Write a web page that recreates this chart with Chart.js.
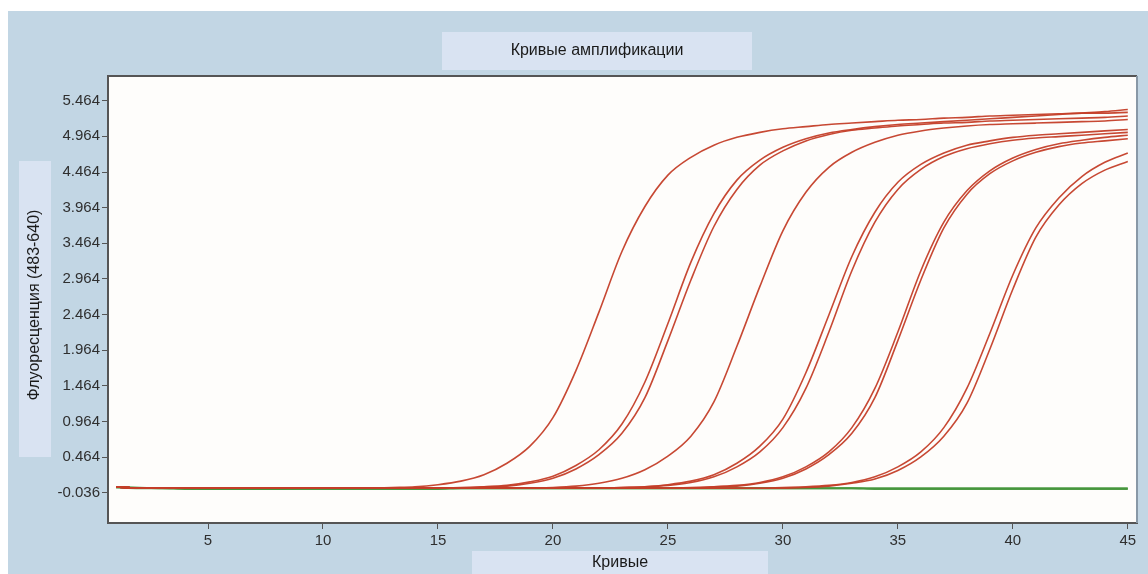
<!DOCTYPE html>
<html>
<head>
<meta charset="utf-8">
<title>Кривые амплификации</title>
<script src="https://cdn.jsdelivr.net/npm/chart.js@4"></script>
<style>
  html, body { margin: 0; padding: 0; background: #ffffff; }
  #wrap { position: relative; width: 1148px; height: 574px; }
</style>
</head>
<body>
<div id="wrap"><canvas id="ampChart" width="1148" height="574"></canvas></div>
<script>
// Chart data

const chartTitle = 'Кривые амплификации';
const xAxisTitle = 'Кривые';
const yAxisTitle = 'Флуоресценция (483-640)';

const cycles = [
  1, 2, 3, 4, 5, 6, 7, 8, 9, 10,
  11, 12, 13, 14, 15, 16, 17, 18, 19, 20,
  21, 22, 23, 24, 25, 26, 27, 28, 29, 30,
  31, 32, 33, 34, 35, 36, 37, 38, 39, 40,
  41, 42, 43, 44, 45
];

const xTickValues = [5, 10, 15, 20, 25, 30, 35, 40, 45];
const yTickValues = [-0.036, 0.464, 0.964, 1.464, 1.964, 2.464, 2.964, 3.464, 3.964, 4.464, 4.964, 5.464];

// red sample curves
const sample1 = [
  0.05, 0.03, 0.03, 0.03, 0.03, 0.03, 0.03, 0.03, 0.03, 0.03,
  0.03, 0.03, 0.04, 0.05, 0.08, 0.13, 0.22, 0.38, 0.62, 1.02,
  1.68, 2.50, 3.35, 3.98, 4.42, 4.67, 4.84, 4.95, 5.02, 5.07,
  5.10, 5.13, 5.15, 5.17, 5.19, 5.20, 5.22, 5.23, 5.25, 5.26,
  5.27, 5.28, 5.29, 5.29, 5.30
];
const sample2a = [
  0.05, 0.03, 0.03, 0.03, 0.03, 0.03, 0.03, 0.03, 0.03, 0.03,
  0.03, 0.03, 0.03, 0.03, 0.03, 0.04, 0.05, 0.07, 0.12, 0.20,
  0.35, 0.57, 0.93, 1.52, 2.34, 3.20, 3.88, 4.35, 4.63, 4.81,
  4.93, 5.01, 5.06, 5.10, 5.13, 5.15, 5.17, 5.19, 5.21, 5.23,
  5.25, 5.27, 5.29, 5.31, 5.34
];
const sample2b = [
  0.05, 0.03, 0.03, 0.03, 0.03, 0.03, 0.03, 0.03, 0.03, 0.03,
  0.03, 0.03, 0.03, 0.03, 0.03, 0.03, 0.05, 0.06, 0.10, 0.17,
  0.30, 0.50, 0.80, 1.30, 2.10, 2.95, 3.70, 4.22, 4.56, 4.76,
  4.90, 4.99, 5.05, 5.08, 5.11, 5.13, 5.15, 5.16, 5.18, 5.19,
  5.20, 5.21, 5.22, 5.23, 5.25
];
const sample3 = [
  0.05, 0.03, 0.03, 0.03, 0.03, 0.03, 0.03, 0.03, 0.03, 0.03,
  0.03, 0.03, 0.03, 0.03, 0.03, 0.03, 0.03, 0.03, 0.03, 0.04,
  0.06, 0.10, 0.17, 0.29, 0.48, 0.76, 1.24, 2.02, 2.86, 3.64,
  4.18, 4.53, 4.74, 4.88, 4.98, 5.04, 5.08, 5.11, 5.13, 5.14,
  5.15, 5.16, 5.17, 5.18, 5.20
];
const sample4a = [
  0.05, 0.03, 0.03, 0.03, 0.03, 0.03, 0.03, 0.03, 0.03, 0.03,
  0.03, 0.03, 0.03, 0.03, 0.03, 0.03, 0.03, 0.03, 0.03, 0.03,
  0.03, 0.03, 0.04, 0.05, 0.08, 0.13, 0.22, 0.38, 0.62, 1.00,
  1.65, 2.46, 3.28, 3.90, 4.32, 4.57, 4.73, 4.84, 4.90, 4.95,
  4.98, 5.00, 5.02, 5.04, 5.06
];
const sample4b = [
  0.05, 0.03, 0.03, 0.03, 0.03, 0.03, 0.03, 0.03, 0.03, 0.03,
  0.03, 0.03, 0.03, 0.03, 0.03, 0.03, 0.03, 0.03, 0.03, 0.03,
  0.03, 0.03, 0.04, 0.05, 0.07, 0.11, 0.19, 0.33, 0.54, 0.88,
  1.43, 2.22, 3.08, 3.76, 4.22, 4.50, 4.68, 4.79, 4.86, 4.91,
  4.94, 4.96, 4.98, 5.00, 5.02
];
const sample5a = [
  0.05, 0.03, 0.03, 0.03, 0.03, 0.03, 0.03, 0.03, 0.03, 0.03,
  0.03, 0.03, 0.03, 0.03, 0.03, 0.03, 0.03, 0.03, 0.03, 0.03,
  0.03, 0.03, 0.03, 0.03, 0.03, 0.04, 0.05, 0.07, 0.11, 0.19,
  0.33, 0.54, 0.88, 1.43, 2.22, 3.08, 3.76, 4.20, 4.48, 4.66,
  4.78, 4.86, 4.91, 4.95, 4.98
];
const sample5b = [
  0.05, 0.03, 0.03, 0.03, 0.03, 0.03, 0.03, 0.03, 0.03, 0.03,
  0.03, 0.03, 0.03, 0.03, 0.03, 0.03, 0.03, 0.03, 0.03, 0.03,
  0.03, 0.03, 0.03, 0.03, 0.03, 0.03, 0.05, 0.06, 0.10, 0.17,
  0.30, 0.50, 0.80, 1.30, 2.10, 2.95, 3.68, 4.15, 4.44, 4.62,
  4.74, 4.82, 4.87, 4.90, 4.93
];
const sample6a = [
  0.05, 0.03, 0.03, 0.03, 0.03, 0.03, 0.03, 0.03, 0.03, 0.03,
  0.03, 0.03, 0.03, 0.03, 0.03, 0.03, 0.03, 0.03, 0.03, 0.03,
  0.03, 0.03, 0.03, 0.03, 0.03, 0.03, 0.03, 0.03, 0.03, 0.04,
  0.05, 0.07, 0.11, 0.19, 0.33, 0.54, 0.88, 1.43, 2.20, 3.02,
  3.68, 4.10, 4.40, 4.60, 4.73
];
const sample6b = [
  0.05, 0.03, 0.03, 0.03, 0.03, 0.03, 0.03, 0.03, 0.03, 0.03,
  0.03, 0.03, 0.03, 0.03, 0.03, 0.03, 0.03, 0.03, 0.03, 0.03,
  0.03, 0.03, 0.03, 0.03, 0.03, 0.03, 0.03, 0.03, 0.03, 0.03,
  0.04, 0.06, 0.10, 0.16, 0.28, 0.47, 0.76, 1.22, 1.98, 2.82,
  3.55, 4.00, 4.30, 4.49, 4.61
];

// green negative controls
const control1 = [
  0.05, 0.04, 0.03, 0.03, 0.02, 0.02, 0.02, 0.02, 0.03, 0.03,
  0.03, 0.03, 0.03, 0.03, 0.03, 0.03, 0.03, 0.03, 0.03, 0.03,
  0.03, 0.03, 0.03, 0.03, 0.03, 0.03, 0.03, 0.03, 0.03, 0.03,
  0.03, 0.03, 0.03, 0.02, 0.02, 0.02, 0.02, 0.02, 0.02, 0.02,
  0.02, 0.02, 0.02, 0.02, 0.02
];
const control2 = [
  0.04, 0.03, 0.03, 0.02, 0.02, 0.02, 0.02, 0.02, 0.02, 0.02,
  0.02, 0.02, 0.02, 0.02, 0.02, 0.03, 0.03, 0.03, 0.03, 0.03,
  0.03, 0.03, 0.03, 0.03, 0.03, 0.03, 0.03, 0.03, 0.03, 0.03,
  0.03, 0.03, 0.03, 0.03, 0.03, 0.03, 0.03, 0.03, 0.03, 0.03,
  0.03, 0.03, 0.03, 0.03, 0.03
];

const sampleSeries = [sample1, sample2a, sample2b, sample3, sample4a, sample4b, sample5a, sample5b, sample6a, sample6b];
const controlSeries = [control1, control2];

const RED = 'rgba(196, 62, 40, 0.95)';
const GREEN = 'rgba(70, 150, 60, 0.95)';
const PANEL = '#c2d6e4';
const LABEL_BOX = '#d9e3f2';
const FONT = '"Liberation Sans", Arial, sans-serif';

function makeDataset(values, color, width) {
  return {
    data: values.map((v, i) => ({ x: cycles[i], y: v })),
    borderColor: color,
    borderWidth: width,
    pointRadius: 0,
    fill: false,
    cubicInterpolationMode: 'monotone'
  };
}

// panel background, label boxes and plot frame
const panelPlugin = {
  id: 'panelBoxes',
  beforeDraw(chart) {
    const ctx = chart.ctx;
    const area = chart.chartArea;
    ctx.save();
    ctx.fillStyle = '#ffffff';
    ctx.fillRect(0, 0, chart.width, chart.height);
    ctx.fillStyle = PANEL;
    ctx.fillRect(8, 11, chart.width - 8, chart.height - 11);
    ctx.fillStyle = '#fefdfb';
    ctx.fillRect(area.left, area.top, area.right - area.left, area.bottom - area.top);

    ctx.fillStyle = LABEL_BOX;
    ctx.fillRect(442, 32, 310, 38);
    ctx.fillRect(19, 161, 32, 296);
    ctx.fillRect(472, 551, 296, 23);
    ctx.restore();
  },
  afterDraw(chart) {
    const ctx = chart.ctx;
    const area = chart.chartArea;
    ctx.save();
    ctx.lineWidth = 2;
    ctx.strokeStyle = '#555555';
    ctx.beginPath();
    ctx.moveTo(area.left, area.top);
    ctx.lineTo(area.right, area.top);
    ctx.stroke();
    ctx.strokeStyle = '#8898a6';
    ctx.beginPath();
    ctx.moveTo(area.right, area.top);
    ctx.lineTo(area.right, area.bottom);
    ctx.stroke();

    ctx.fillStyle = '#1a1a1a';
    ctx.font = '16px ' + FONT;
    ctx.textAlign = 'center';
    ctx.textBaseline = 'middle';
    ctx.fillText(chartTitle, 597, 51);
    ctx.fillText(xAxisTitle, 620, 563);
    ctx.translate(35, 305);
    ctx.rotate(-Math.PI / 2);
    ctx.fillText(yAxisTitle, 0, 0);
    ctx.restore();
  }
};

const datasets = sampleSeries.map(s => makeDataset(s, RED, 1.6))
  .concat(controlSeries.map(s => makeDataset(s, GREEN, 1.8)));

const ctx = document.getElementById('ampChart').getContext('2d');

const ampChart = new Chart(ctx, {
  type: 'line',
  data: { datasets: datasets },
  options: {
    responsive: false,
    devicePixelRatio: 1,
    animation: false,
    layout: {
      padding: { left: 48, top: 76, right: 11, bottom: 0 }
    },
    plugins: {
      legend: { display: false },
      tooltip: { enabled: false },
      title: { display: false }
    },
    scales: {
      x: {
        type: 'linear',
        min: 0.65,
        max: 45.4,
        afterFit(scale) { scale.height = 51; },
        afterBuildTicks(scale) {
          scale.ticks = xTickValues.map(v => ({ value: v }));
        },
        grid: {
          drawOnChartArea: false,
          drawTicks: true,
          tickLength: 6,
          color: '#555555'
        },
        border: { display: true, color: '#555555', width: 2 },
        ticks: {
          color: '#2f2f2f',
          padding: 3,
          maxRotation: 0,
          font: { family: FONT, size: 15 },
          callback: v => String(v)
        }
      },
      y: {
        type: 'linear',
        min: -0.457,
        max: 5.81,
        afterFit(scale) { scale.width = 60; },
        afterBuildTicks(scale) {
          scale.ticks = yTickValues.map(v => ({ value: v }));
        },
        grid: {
          drawOnChartArea: false,
          drawTicks: true,
          tickLength: 6,
          color: '#555555'
        },
        border: { display: true, color: '#555555', width: 2 },
        ticks: {
          color: '#2f2f2f',
          padding: 2,
          font: { family: FONT, size: 15 },
          callback: v => v.toFixed(3)
        }
      }
    }
  },
  plugins: [panelPlugin]
});
</script>
</body>
</html>
